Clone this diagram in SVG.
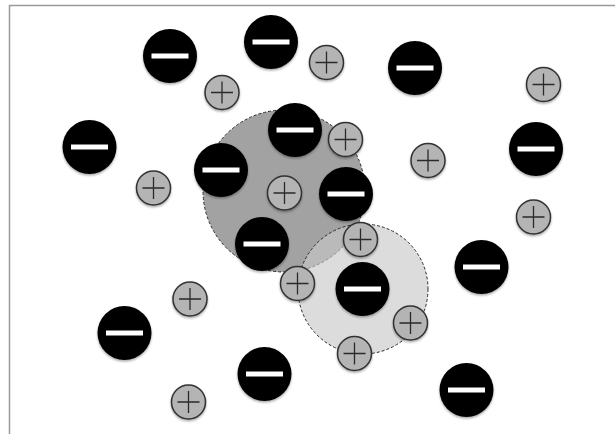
<svg xmlns="http://www.w3.org/2000/svg" xmlns:xlink="http://www.w3.org/1999/xlink" width="615" height="434" viewBox="0 0 615 434">
<style>
.frame{fill:#ffffff;stroke:#9a9a9a;stroke-width:1.5}
.zone{stroke:#2a2a2a;stroke-width:1;stroke-dasharray:3 2}
.neg{fill:#000000}
.bar{fill:#ffffff}
.pos{fill:#b4b4b4;stroke:#333333;stroke-width:1.5}
.plus{stroke:#2a2a2a;stroke-width:1.3;fill:none}
.ion{filter:url(#sh)}
</style>
<defs>
<filter id="sh" x="-30%" y="-30%" width="160%" height="170%">
<feDropShadow dx="0" dy="1.5" stdDeviation="1.3" flood-color="#000000" flood-opacity="0.35"/>
</filter>
<g id="anion">
<circle class="neg" cx="0" cy="0" r="27"/>
<rect class="bar" x="-18.5" y="-2.5" width="37" height="5"/>
</g>
<g id="cation">
<circle class="pos" cx="0" cy="0" r="17"/>
<path class="plus" d="M-11 0H11M0 -11V11"/>
</g>
</defs>
<rect class="frame" x="9.5" y="5.5" width="620" height="440"/>
<g id="zones">
<circle id="zone-dark" class="zone" cx="284" cy="191" r="81" fill="#a2a2a2"/>
<circle id="zone-light" class="zone" cx="363" cy="289" r="65" fill="#c7c7c7" fill-opacity="0.63" stroke-opacity="1"/>
</g>
<g id="connectors"></g>
<g id="anions">
<g id="n1" class="ion"><use xlink:href="#anion" href="#anion" transform="translate(170,56)"/></g>
<g id="n2" class="ion"><use xlink:href="#anion" href="#anion" transform="translate(271,42)"/></g>
<g id="n3" class="ion"><use xlink:href="#anion" href="#anion" transform="translate(415,68)"/></g>
<g id="n4" class="ion"><use xlink:href="#anion" href="#anion" transform="translate(89.5,147)"/></g>
<g id="n5" class="ion"><use xlink:href="#anion" href="#anion" transform="translate(295,130)"/></g>
<g id="n6" class="ion"><use xlink:href="#anion" href="#anion" transform="translate(221,170)"/></g>
<g id="n7" class="ion"><use xlink:href="#anion" href="#anion" transform="translate(346,194)"/></g>
<g id="n8" class="ion"><use xlink:href="#anion" href="#anion" transform="translate(536,149)"/></g>
<g id="n9" class="ion"><use xlink:href="#anion" href="#anion" transform="translate(262,244)"/></g>
<g id="n10" class="ion"><use xlink:href="#anion" href="#anion" transform="translate(362.5,289)"/></g>
<g id="n11" class="ion"><use xlink:href="#anion" href="#anion" transform="translate(481.5,267)"/></g>
<g id="n12" class="ion"><use xlink:href="#anion" href="#anion" transform="translate(124.5,333)"/></g>
<g id="n13" class="ion"><use xlink:href="#anion" href="#anion" transform="translate(264.5,374)"/></g>
<g id="n14" class="ion"><use xlink:href="#anion" href="#anion" transform="translate(466.5,390)"/></g>
</g>
<g id="cations">
<g id="p1" class="ion"><use xlink:href="#cation" href="#cation" transform="translate(326.5,62.5)"/></g>
<g id="p2" class="ion"><use xlink:href="#cation" href="#cation" transform="translate(222,92.5)"/></g>
<g id="p3" class="ion"><use xlink:href="#cation" href="#cation" transform="translate(543.5,84.5)"/></g>
<g id="p4" class="ion"><use xlink:href="#cation" href="#cation" transform="translate(345.5,139.5)"/></g>
<g id="p5" class="ion"><use xlink:href="#cation" href="#cation" transform="translate(428,160.5)"/></g>
<g id="p6" class="ion"><use xlink:href="#cation" href="#cation" transform="translate(153.5,188)"/></g>
<g id="p7" class="ion"><use xlink:href="#cation" href="#cation" transform="translate(284.5,193)"/></g>
<g id="p8" class="ion"><use xlink:href="#cation" href="#cation" transform="translate(533.5,217)"/></g>
<g id="p9" class="ion"><use xlink:href="#cation" href="#cation" transform="translate(360.5,239.5)"/></g>
<g id="p10" class="ion"><use xlink:href="#cation" href="#cation" transform="translate(297.5,283.5)"/></g>
<g id="p11" class="ion"><use xlink:href="#cation" href="#cation" transform="translate(190,299)"/></g>
<g id="p12" class="ion"><use xlink:href="#cation" href="#cation" transform="translate(410.5,323)"/></g>
<g id="p13" class="ion"><use xlink:href="#cation" href="#cation" transform="translate(354.5,353.5)"/></g>
<g id="p14" class="ion"><use xlink:href="#cation" href="#cation" transform="translate(188.5,402)"/></g>
</g>
</svg>
